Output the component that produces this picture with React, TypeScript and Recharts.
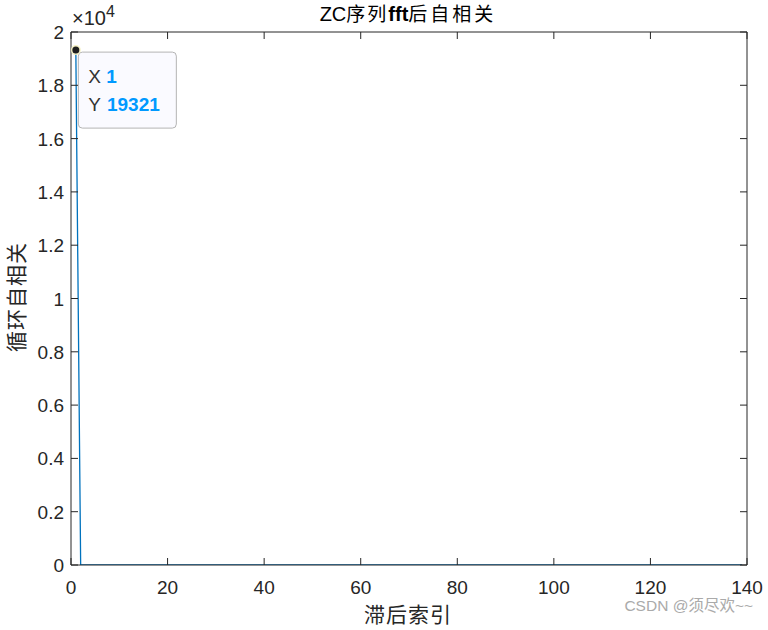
import React from "react";
import {
  LineChart,
  Line,
  XAxis,
  YAxis,
  ReferenceDot,
  Customized,
} from "recharts";

// Circular autocorrelation of the FFT'd ZC sequence, lags 1..139
const autocorr = [
  19321,
  0, 0, 0, 0, 0, 0, 0, 0, 0, 0,
  0, 0, 0, 0, 0, 0, 0, 0, 0, 0,
  0, 0, 0, 0, 0, 0, 0, 0, 0, 0,
  0, 0, 0, 0, 0, 0, 0, 0, 0, 0,
  0, 0, 0, 0, 0, 0, 0, 0, 0, 0,
  0, 0, 0, 0, 0, 0, 0, 0, 0, 0,
  0, 0, 0, 0, 0, 0, 0, 0, 0, 0,
  0, 0, 0, 0, 0, 0, 0, 0, 0, 0,
  0, 0, 0, 0, 0, 0, 0, 0, 0, 0,
  0, 0, 0, 0, 0, 0, 0, 0, 0, 0,
  0, 0, 0, 0, 0, 0, 0, 0, 0, 0,
  0, 0, 0, 0, 0, 0, 0, 0, 0, 0,
  0, 0, 0, 0, 0, 0, 0, 0, 0, 0,
  0, 0, 0, 0, 0, 0, 0, 0,
];

const xTicks = [0, 20, 40, 60, 80, 100, 120, 140];
const yTicks = [0, 2000, 4000, 6000, 8000, 10000, 12000, 14000, 16000, 18000, 20000];
const yTickLabels = ["0", "0.2", "0.4", "0.6", "0.8", "1", "1.2", "1.4", "1.6", "1.8", "2"];

const tipX = 1;
const tipY = 19321;

const data = autocorr.map((v, i) => ({ lag: i + 1, value: v }));

const AX = "#262626";
const FONT = "'Liberation Sans', Arial, 'Noto Sans CJK SC', sans-serif";
const CJK = "'Noto Sans CJK SC', sans-serif";

const BottomTick = (props: any) => {
  const { x, y, payload } = props;
  return (
    <g>
      <line x1={x} x2={x} y1={y} y2={y - 7} stroke={AX} strokeWidth={1} />
      <text x={x} y={y + 29} textAnchor="middle" fontSize={19} fill={AX} fontFamily={FONT}>
        {payload.value}
      </text>
    </g>
  );
};

const TopTick = (props: any) => {
  const { x, y } = props;
  return <line x1={x} x2={x} y1={y} y2={y + 7} stroke={AX} strokeWidth={1} />;
};

const LeftTick = (props: any) => {
  const { x, y, payload } = props;
  const lbl = yTickLabels[yTicks.indexOf(payload.value)] ?? "";
  return (
    <g>
      <line x1={x} x2={x + 7} y1={y} y2={y} stroke={AX} strokeWidth={1} />
      <text x={x - 7} y={y + 7} textAnchor="end" fontSize={19} fill={AX} fontFamily={FONT}>
        {lbl}
      </text>
    </g>
  );
};

const RightTick = (props: any) => {
  const { x, y } = props;
  return <line x1={x} x2={x - 7} y1={y} y2={y} stroke={AX} strokeWidth={1} />;
};

const TipShape = (props: any) => {
  const { cx, cy } = props;
  const bx = cx + 2.5;
  const by = cy + 2;
  return (
    <g>
      <rect x={bx} y={by} width={98} height={76} rx={4} ry={4} fill="#fafaff" stroke="#b4b4b4" strokeWidth={1} />
      <circle cx={cx} cy={cy} r={5} fill="#f4f0c0" opacity={0.9} />
      <circle cx={cx} cy={cy} r={3.5} fill="#1e1e1e" />
      <text x={bx + 10} y={by + 31} fontSize={19} fill="#333" fontFamily={FONT}>
        X <tspan fill="#0099ff" fontWeight="bold">{tipX}</tspan>
      </text>
      <text x={bx + 10} y={by + 59} fontSize={19} fill="#333" fontFamily={FONT}>
        Y <tspan fill="#0099ff" fontWeight="bold" dx={1}>{tipY}</tspan>
      </text>
    </g>
  );
};

const Annotations = () => (
  <g>
    <text x={408} y={21} textAnchor="middle" fill="#000" fontFamily={FONT}>
      <tspan fontSize={20}>ZC</tspan>
      <tspan fontSize={19} fontFamily={CJK} letterSpacing={2}>序列</tspan>
      <tspan fontSize={20} fontWeight="bold">fft</tspan>
      <tspan fontSize={19} fontFamily={CJK} letterSpacing={3}>后自相关</tspan>
    </text>
    <text x={72} y={25} fontSize={20} fill={AX} fontFamily={FONT}>
      ×10<tspan fontSize={16} dy={-8}>4</tspan>
    </text>
    <text x={408} y={622} textAnchor="middle" fontSize={21} fill={AX} fontFamily={CJK} letterSpacing={1}>
      滞后索引
    </text>
    <text
      x={24}
      y={297}
      textAnchor="middle"
      fontSize={21}
      fill={AX}
      fontFamily={CJK}
      letterSpacing={1}
      transform="rotate(-90 24 297)"
    >
      循环自相关
    </text>
    <text x={753} y={611} textAnchor="end" fontSize={15.5} fill="#aaaaaa" fontFamily={FONT}>
      CSDN @须尽欢~~
    </text>
  </g>
);

export default function App() {
  return (
    <div style={{ position: "absolute", left: 0, top: 0, width: 768, height: 630, background: "#fff" }}>
      <LineChart
        width={768}
        height={630}
        data={data}
        margin={{ top: 31, right: 20, bottom: 64, left: 70 }}
      >
        <XAxis
          xAxisId="bottom"
          dataKey="lag"
          type="number"
          domain={[0, 140]}
          ticks={xTicks}
          height={1}
          tickSize={0}
          tickMargin={0}
          tickLine={false}
          axisLine={{ stroke: AX }}
          tick={<BottomTick />}
          interval={0}
          allowDataOverflow
        />
        <XAxis
          xAxisId="top"
          orientation="top"
          dataKey="lag"
          type="number"
          domain={[0, 140]}
          ticks={xTicks}
          height={1}
          tickSize={0}
          tickMargin={0}
          tickLine={false}
          axisLine={{ stroke: AX }}
          tick={<TopTick />}
          interval={0}
          allowDataOverflow
        />
        <YAxis
          yAxisId="left"
          type="number"
          domain={[0, 20000]}
          ticks={yTicks}
          width={1}
          tickSize={0}
          tickMargin={0}
          tickLine={false}
          axisLine={{ stroke: AX }}
          tick={<LeftTick />}
          interval={0}
          allowDataOverflow
        />
        <YAxis
          yAxisId="right"
          orientation="right"
          type="number"
          domain={[0, 20000]}
          ticks={yTicks}
          width={1}
          tickSize={0}
          tickMargin={0}
          tickLine={false}
          axisLine={{ stroke: AX }}
          tick={<RightTick />}
          interval={0}
          allowDataOverflow
        />
        <Line
          xAxisId="bottom"
          yAxisId="left"
          dataKey="value"
          type="linear"
          stroke="#0072BD"
          strokeWidth={1.3}
          dot={false}
          isAnimationActive={false}
        />
        <ReferenceDot
          xAxisId="bottom"
          yAxisId="left"
          x={tipX}
          y={tipY}
          shape={<TipShape />}
          ifOverflow="visible"
        />
        <Customized component={Annotations} />
      </LineChart>
    </div>
  );
}
